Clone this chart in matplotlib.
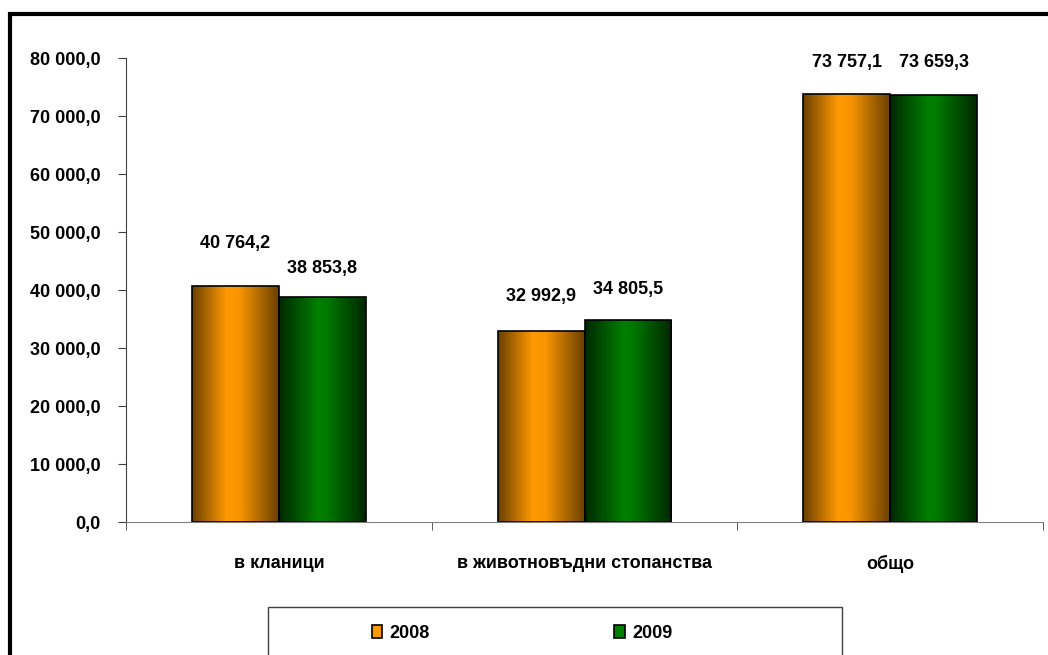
import matplotlib
matplotlib.use("Agg")
import matplotlib.pyplot as plt
import numpy as np
from matplotlib.colors import LinearSegmentedColormap
from matplotlib.patches import Rectangle

categories = ["в кланици", "в животновъдни стопанства", "общо"]
series_names = ["2008", "2009"]
values_2008 = [40764.2, 32992.9, 73757.1]
values_2009 = [38853.8, 34805.5, 73659.3]
y_ticks = [0, 10000, 20000, 30000, 40000, 50000, 60000, 70000, 80000]

plt.rcParams['font.family'] = ['Liberation Sans', 'DejaVu Sans']
plt.rcParams['font.weight'] = 'bold'
FS = 13


def fmt(v):
    s = f"{v:,.1f}"
    return s.replace(",", " ").replace(".", ",")


fig = plt.figure(figsize=(10.48, 6.55), dpi=100)
ax = fig.add_axes([126 / 1048, 133 / 655, 917 / 1048, 464 / 655])

x = np.arange(len(categories))
bw = 0.284
bars1 = ax.bar(x - bw / 2, values_2008, bw, color="#ff9900", edgecolor="black", linewidth=1.2, zorder=3, label=series_names[0])
bars2 = ax.bar(x + bw / 2, values_2009, bw, color="#008000", edgecolor="black", linewidth=1.2, zorder=3, label=series_names[1])

cm_or = LinearSegmentedColormap.from_list("or", [(0, "#6a4000"), (0.4, "#ff9900"), (0.55, "#f89500"), (1, "#6a4000")])
cm_gr = LinearSegmentedColormap.from_list("gr", [(0, "#002800"), (0.45, "#008000"), (0.55, "#007800"), (1, "#002800")])
grad = np.linspace(0, 1, 256).reshape(1, -1)
for bars, cm in ((bars1, cm_or), (bars2, cm_gr)):
    for b in bars:
        bx, by, w, h = b.get_x(), b.get_y(), b.get_width(), b.get_height()
        b.set_facecolor("none")
        im = ax.imshow(grad, cmap=cm, extent=[bx, bx + w, by, by + h], aspect="auto", zorder=2.5, interpolation="bilinear")
        im.set_clip_path(b)

ax.set_xlim(-0.5, len(categories) - 0.5)
ax.set_ylim(0, 80000)

# label offsets in pixels (Excel placement)
offs = [[42, 34, 32], [28, 31, 32]]
for si, (bars, vals) in enumerate(((bars1, values_2008), (bars2, values_2009))):
    for ci, (b, v) in enumerate(zip(bars, vals)):
        ax.annotate(fmt(v), (b.get_x() + b.get_width() / 2, v), xytext=(0, offs[si][ci] * 0.72),
                    textcoords="offset points", ha="center", va="center", fontsize=FS, fontweight="bold")

ax.set_yticks(y_ticks)
ax.set_yticklabels([fmt(t) for t in y_ticks], fontsize=FS, fontweight="bold")
ax.set_xticks(x)
ax.set_xticklabels(categories, fontsize=FS, fontweight="bold")
ax.set_xticks(np.arange(len(categories) + 1) - 0.5, minor=True)
ax.tick_params(axis="x", which="major", length=0, pad=24)
ax.tick_params(axis="x", which="minor", length=6, direction="out", color="#404040")
ax.tick_params(axis="y", length=6, direction="out", pad=12, color="#404040")

for s in ("top", "right"):
    ax.spines[s].set_visible(False)
ax.spines["left"].set_color("#404040")
ax.spines["bottom"].set_color("#808080")

# legend box
fig.patches.append(Rectangle((268 / 1048, -0.1), (842 - 268) / 1048, 48 / 655 + 0.1,
                             transform=fig.transFigure, fill=False, edgecolor="#404040", linewidth=1.0))
h1 = Rectangle((0, 0), 1, 1, facecolor="#ff9900", edgecolor="black", linewidth=1.2)
h2 = Rectangle((0, 0), 1, 1, facecolor="#008000", edgecolor="black", linewidth=1.2)
fig.legend([h1, h2], series_names, loc="center", bbox_to_anchor=(522 / 1048, 1 - 633 / 655),
           ncol=2, frameon=False, prop={"size": FS, "weight": "bold"},
           handlelength=0.6, handleheight=0.7, handletextpad=0.4, columnspacing=10.2)

# outer border
fig.patches.append(Rectangle((10 / 1048, -0.1), 1.2, 1 - 14 / 655 + 0.1,
                             transform=fig.transFigure, fill=False, edgecolor="black", linewidth=3.0))

fig.savefig("out.png", dpi=100)
